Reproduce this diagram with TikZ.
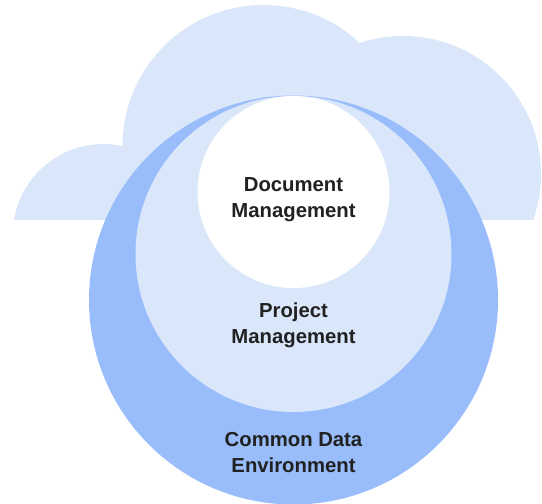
\documentclass[tikz,border=0pt]{standalone}
\usepackage{fontspec}
\setmainfont{Liberation Sans}
\usetikzlibrary{positioning}
\definecolor{cloudblue}{HTML}{DAE7FB}
\definecolor{ringblue}{HTML}{98BDFA}
\definecolor{labelgray}{HTML}{212121}
\tikzset{
    cloud part/.style={fill=cloudblue},
    area label/.style={align=center, text=labelgray, inner sep=0pt, font=\bfseries\fontsize{20.3}{25.5}\selectfont}
}
\begin{document}
\begin{tikzpicture}[x=1pt, y=-1pt]
    \useasboundingbox (0,0) rectangle (542,504);

    % cloud behind the rings
    \begin{scope}
        \clip (0,0) rectangle (542,219.7);
        \fill[cloud part] (103.5,234.7) circle[radius=90.7pt];
        \fill[cloud part] (263.5,146) circle[radius=141pt];
        \fill[cloud part] (403,174) circle[radius=138pt];
        \fill[cloud part] (103,180) rectangle (403,220);
    \end{scope}

    % rings
    \fill[ringblue]  (293.5,300) circle[radius=204.5pt];
    \fill[cloudblue] (293.5,254) circle[radius=158pt];
    \fill[white]     (293.5,192) circle[radius=96pt];

    \node[area label] (document) at (293.5,199.5) {Document\\Management};
    \node[area label] (project)  at (293.5,325.5) {Project\\Management};
    \node[area label] (common)   at (293.5,452.5) {Common Data\\Environment};
\end{tikzpicture}
\end{document}
